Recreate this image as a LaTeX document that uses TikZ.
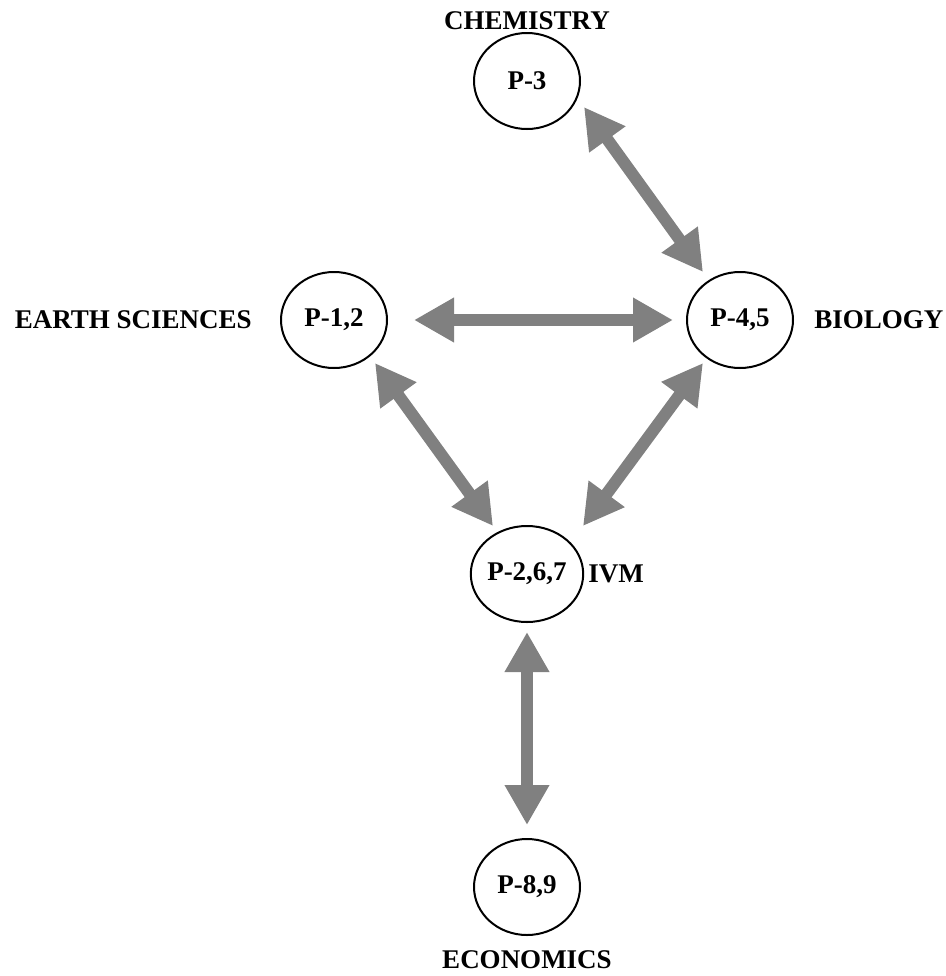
\documentclass[tikz,border=0pt]{standalone}
\usepackage{fontspec}
\setmainfont{Liberation Serif}
\usetikzlibrary{arrows.meta,shapes.geometric}
\definecolor{arrowgray}{RGB}{128,128,128}
\begin{document}
\begin{tikzpicture}[x=0.75pt,y=-0.75pt,
  every node/.style={font=\fontsize{20.25}{24}\selectfont\bfseries},
  pnode/.style={draw, line width=1.5pt, ellipse, minimum width=79.5pt, minimum height=72pt, inner sep=0pt},
  lbl/.style={inner sep=0pt},
  biarrow/.style={draw=arrowgray, line width=9pt,
    {Triangle[length=30pt,width=31.5pt,fill=arrowgray]}-{Triangle[length=30pt,width=31.5pt,fill=arrowgray]}}
]
\useasboundingbox (0,0) rectangle (946,976);
\node[pnode] (p3) at (527,81) {P-3};
\node[pnode] (p12) at (334,320) {P-1,2};
\node[pnode] (p45) at (740,320) {P-4,5};
\node[pnode] (p267) at (527,574) {P-2,6,7};
\node[pnode] (p89) at (527,887) {P-8,9};
\node[lbl] (chem) at (527,21) {CHEMISTRY};
\node[lbl, anchor=east] (earth) at ([xshift=-21pt]p12.west) {EARTH SCIENCES};
\node[lbl, anchor=west] (bio) at ([xshift=15pt]p45.east) {BIOLOGY};
\node[lbl, anchor=west] (ivm) at ([xshift=3pt]p267.east) {IVM};
\node[lbl] (econ) at (527,960) {ECONOMICS};
\draw[biarrow] ([shift={(57,26)}]p3.center) -- ([shift={(-37,-48)}]p45.center);
\draw[biarrow] ([shift={(80,0)}]p12.center) -- ([shift={(-67,0)}]p45.center);
\draw[biarrow] ([shift={(41,43)}]p12.center) -- ([shift={(-34,-48)}]p267.center);
\draw[biarrow] ([shift={(-37,43)}]p45.center) -- ([shift={(56,-48)}]p267.center);
\draw[biarrow] ([shift={(0,58)}]p267.center) -- ([shift={(0,-62)}]p89.center);
\end{tikzpicture}
\end{document}
